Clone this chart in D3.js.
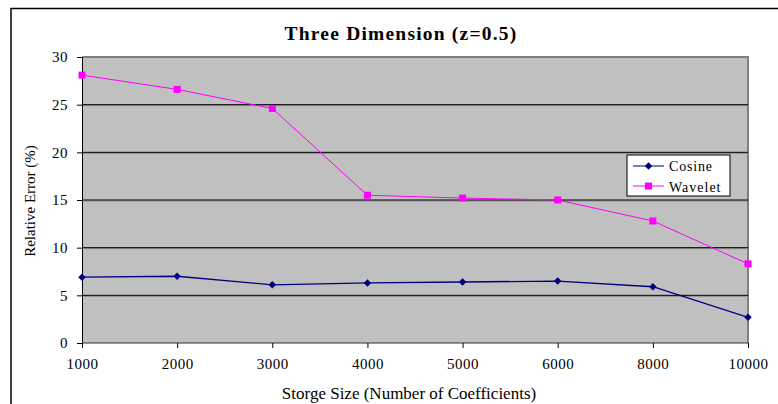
<!DOCTYPE html>
<html>
<head>
<meta charset="utf-8">
<script src="https://cdn.jsdelivr.net/npm/d3@7"></script>
<style>
  body { margin: 0; background: #fff; }
  svg text { font-family: "Liberation Serif", "Times New Roman", serif; }
</style>
</head>
<body>
<svg id="chart" width="778" height="404"></svg>
<script>
"use strict";

// chart data
const sizes = ["1000", "2000", "3000", "4000", "5000", "6000", "8000", "10000"];
const cosine = [6.9, 7.0, 6.1, 6.3, 6.4, 6.5, 5.9, 2.7];
const wavelet = [28.1, 26.6, 24.6, 15.5, 15.2, 15.0, 12.8, 8.3];
const yTicks = [0, 5, 10, 15, 20, 25, 30];

const svg = d3.select("#chart");
const plotLeft = 82, plotRight = 748, plotTop = 57, plotBottom = 343;

let scaleX = d3.scalePoint().domain(sizes).range([plotLeft, plotRight]);
let scaleY = d3.scaleLinear().domain([0, 30]).range([plotBottom, plotTop]);

// outer frame
svg.append("path")
    .attr("d", `M11,404 V8.5 H778`)
    .attr("fill", "none")
    .attr("stroke", "#000")
    .attr("stroke-width", 1.5);

// plot area
svg.append("rect")
    .attr("x", plotLeft).attr("y", plotTop)
    .attr("width", plotRight - plotLeft).attr("height", plotBottom - plotTop)
    .attr("fill", "#c0c0c0");
svg.append("path")
    .attr("d", `M${plotLeft},${plotTop} H${plotRight} V${plotBottom}`)
    .attr("fill", "none")
    .attr("stroke", "#7f7f7f")
    .attr("stroke-width", 2);

// horizontal grid
let grid = svg.append("g").attr("class", "yGrid");
yTicks.filter(d => d > 0 && d < 30).forEach(function(d) {
    grid.append("line")
        .attr("x1", plotLeft).attr("x2", plotRight)
        .attr("y1", scaleY(d) + 1).attr("y2", scaleY(d) + 1)
        .attr("stroke", "#8a8a8a");
    grid.append("line")
        .attr("x1", plotLeft).attr("x2", plotRight)
        .attr("y1", scaleY(d)).attr("y2", scaleY(d))
        .attr("stroke", "#000");
});

// y axis
let yAxis = svg.append("g")
    .attr("transform", `translate(${plotLeft},0)`)
    .call(d3.axisLeft(scaleY).tickValues(yTicks).tickSize(5).tickPadding(9));
yAxis.select(".domain").attr("stroke", "#000");
yAxis.selectAll("line").attr("stroke", "#000");
yAxis.selectAll("text")
    .attr("font-size", 15)
    .attr("letter-spacing", 0.5)
    .attr("fill", "#000");

// x axis
let xAxis = svg.append("g")
    .attr("transform", `translate(0,${plotBottom})`)
    .call(d3.axisBottom(scaleX).tickSize(5).tickPadding(10));
xAxis.select(".domain").attr("d", `M${plotLeft},0 H${plotRight}`).attr("stroke", "#333");
xAxis.selectAll("line").attr("stroke", "#000");
xAxis.selectAll("text")
    .attr("font-size", 15)
    .attr("letter-spacing", 0.5)
    .attr("fill", "#000");

// series lines
let line = d3.line().x((d, i) => scaleX(sizes[i])).y(d => scaleY(d));
svg.append("path").datum(wavelet)
    .attr("d", line).attr("fill", "none")
    .attr("stroke", "#ff00ff").attr("stroke-width", 1);
svg.append("path").datum(cosine)
    .attr("d", line).attr("fill", "none")
    .attr("stroke", "#000080").attr("stroke-width", 1.3);

// markers
svg.append("g").selectAll("rect").data(wavelet).join("rect")
    .attr("x", (d, i) => scaleX(sizes[i]) - 3.5)
    .attr("y", d => scaleY(d) - 3.5)
    .attr("width", 7).attr("height", 7)
    .attr("fill", "#ff00ff");
let diamond = d3.symbol().type(d3.symbolDiamond2).size(36);
svg.append("g").selectAll("path").data(cosine).join("path")
    .attr("d", diamond)
    .attr("transform", (d, i) => `translate(${scaleX(sizes[i])},${scaleY(d)})`)
    .attr("fill", "#000080");

// legend
let legend = svg.append("g").attr("transform", "translate(627,155)");
legend.append("rect")
    .attr("width", 103).attr("height", 41)
    .attr("fill", "#fff").attr("stroke", "#000");
legend.append("line")
    .attr("x1", 6).attr("x2", 37).attr("y1", 11).attr("y2", 11)
    .attr("stroke", "#000080");
legend.append("path")
    .attr("d", diamond).attr("transform", "translate(21.5,11)")
    .attr("fill", "#000080");
legend.append("line")
    .attr("x1", 6).attr("x2", 37).attr("y1", 31).attr("y2", 31)
    .attr("stroke", "#ff00ff");
legend.append("rect")
    .attr("x", 18).attr("y", 27.5).attr("width", 7).attr("height", 7)
    .attr("fill", "#ff00ff");
legend.append("text").text("Cosine")
    .attr("x", 42).attr("y", 16)
    .attr("font-size", 14).attr("letter-spacing", 0.8);
legend.append("text").text("Wavelet")
    .attr("x", 42).attr("y", 36.5)
    .attr("font-size", 14).attr("letter-spacing", 1);

// titles
svg.append("text").text("Three Dimension (z=0.5)")
    .attr("x", 401).attr("y", 40)
    .attr("text-anchor", "middle")
    .attr("font-size", 19.5).attr("letter-spacing", 1.2)
    .attr("font-weight", "bold");
svg.append("text").text("Storge Size (Number of Coefficients)")
    .attr("x", 409).attr("y", 399)
    .attr("text-anchor", "middle")
    .attr("font-size", 17);
svg.append("text").text("Relative Error (%)")
    .attr("transform", "translate(35,201) rotate(-90)")
    .attr("text-anchor", "middle")
    .attr("font-size", 15);
</script>
</body>
</html>
